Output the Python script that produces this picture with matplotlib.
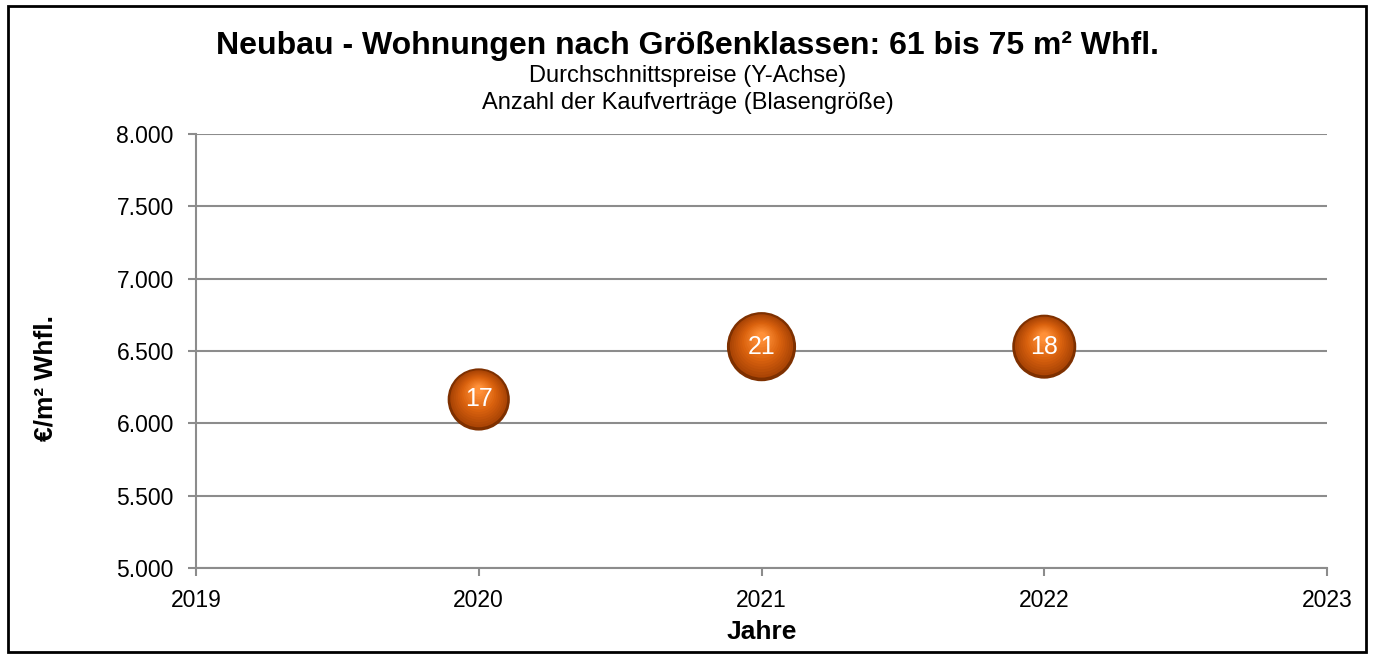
import numpy as np
import matplotlib.pyplot as plt
import matplotlib.transforms as mtransforms
from matplotlib.colors import to_rgb
from matplotlib.patches import Rectangle
from matplotlib.ticker import FuncFormatter

plt.rcParams['font.family'] = ['Liberation Sans', 'DejaVu Sans']

# data
years = [2020, 2021, 2022]
prices = [6165, 6530, 6530]
contracts = [17, 21, 18]

fig = plt.figure(figsize=(13.75, 6.57), dpi=100)
ax = fig.add_axes([196 / 1375, 1 - 568 / 657, (1327 - 196) / 1375, (568 - 134) / 657])

# frame around the whole chart
fig.patches.append(Rectangle((8 / 1375, 5 / 657), 1358 / 1375, 646 / 657,
                             transform=fig.transFigure, fill=False,
                             edgecolor='black', linewidth=2))

ax.set_xlim(2019, 2023)
ax.set_ylim(5000, 8000)
ax.set_xticks([2019, 2020, 2021, 2022, 2023])
ax.set_yticks(range(5000, 8001, 500))
ax.yaxis.set_major_formatter(FuncFormatter(lambda v, p: f'{int(v):,}'.replace(',', '.')))
ax.grid(axis='y', color='#8c8c8c', linewidth=1.5)
ax.set_axisbelow(True)
for s in ['top', 'right']:
    ax.spines[s].set_visible(False)
for s in ['left', 'bottom']:
    ax.spines[s].set_color('#8c8c8c')
    ax.spines[s].set_linewidth(1.5)
ax.tick_params(colors='#8c8c8c', labelcolor='black', labelsize=16.5, width=1.5, length=6)
ax.tick_params(axis='x', pad=9)
ax.tick_params(axis='y', pad=10)

# bubbles (area ~ number of contracts) with a fake sphere shading
scale = 118
sizes = np.array(contracts) * scale
ax.scatter(years, prices, s=sizes, color='#7e3000', zorder=3, linewidths=0)
edge = np.array(to_rgb('#a44004'))
mid = np.array(to_rgb('#da620e'))
top = np.array(to_rgb('#ff9038'))
n = 14
for i in range(n):
    t = (i + 1) / n
    frac = (1 - 0.85 * t) ** 2 * 0.95
    col = edge + (mid - edge) * t * 2 if t < 0.5 else mid + (top - mid) * (t - 0.5) * 2
    tr = mtransforms.offset_copy(ax.transData, fig=fig, x=0, y=7 * t, units='points')
    ax.scatter(years, prices, s=sizes * frac, color=col, zorder=3, linewidths=0, transform=tr)

for x, y, c in zip(years, prices, contracts):
    ax.text(x, y, str(c), color='white', fontsize=18, ha='center', va='center', zorder=4)

ax.set_xlabel('Jahre', fontsize=19, fontweight='bold', labelpad=6)
ax.set_ylabel('€/m² Whfl.', fontsize=19, fontweight='bold')
ax.yaxis.set_label_coords(-(196 - 57) / 1131, (568 - 378) / 434)

fig.text(0.5, 1 - 46 / 657, 'Neubau - Wohnungen nach Größenklassen: 61 bis 75 m² Whfl.',
         ha='center', va='center', fontsize=23, fontweight='bold')
fig.text(0.5, 1 - 76 / 657, 'Durchschnittspreise (Y-Achse)', ha='center', va='center', fontsize=17)
fig.text(0.5, 1 - 103 / 657, 'Anzahl der Kaufverträge (Blasengröße)', ha='center', va='center', fontsize=17)

fig.savefig('out.png', dpi=100)
